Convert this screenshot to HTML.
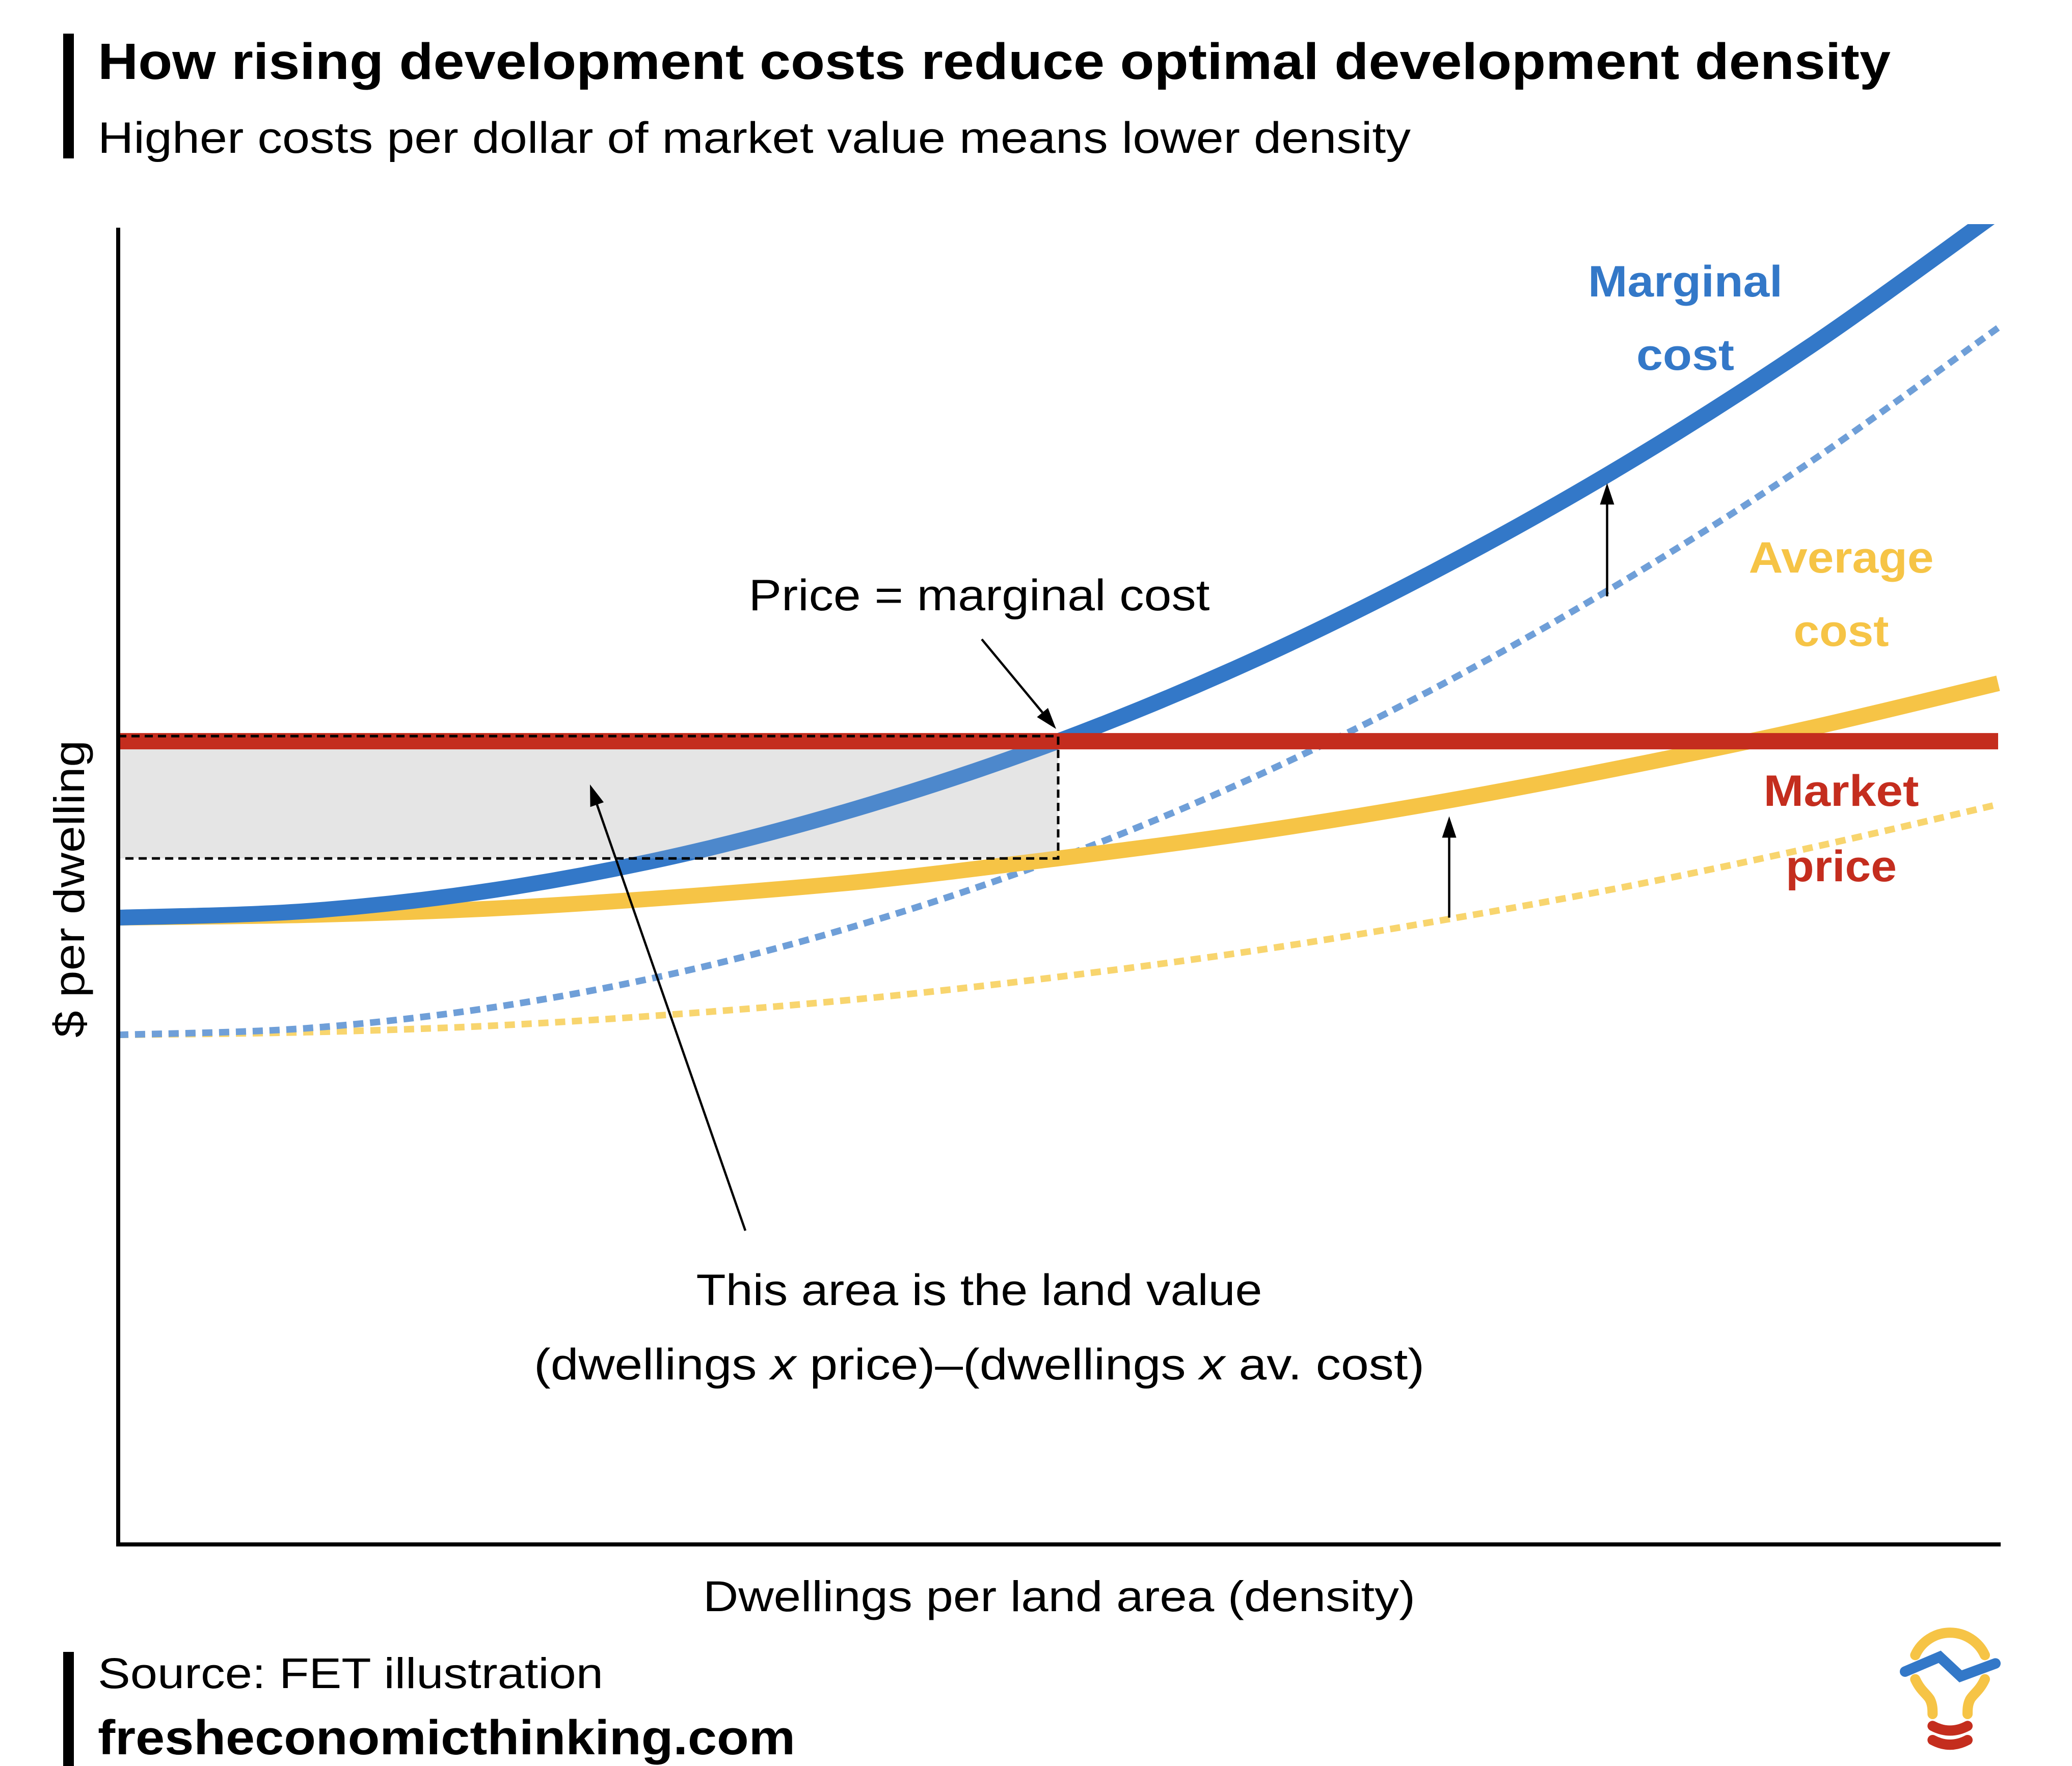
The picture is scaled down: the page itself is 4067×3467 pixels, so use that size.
<!DOCTYPE html>
<html><head><meta charset="utf-8"><style>
html,body{margin:0;padding:0;background:#fff;}
svg{display:block;font-family:"Liberation Sans",Arial,sans-serif;}
</style></head><body>
<svg id="chart" width="4067" height="3467" viewBox="0 0 4067 3467" xmlns="http://www.w3.org/2000/svg">
<defs>
<clipPath id="plotclip"><rect x="232" y="440" width="3700" height="2592"/></clipPath>
</defs>
<rect x="124" y="66" width="21" height="245" fill="#000"/>
<text x="192" y="155" font-size="100" font-weight="bold" fill="#000" textLength="3519" lengthAdjust="spacingAndGlyphs">How rising development costs reduce optimal development density</text>
<text x="192" y="300" font-size="86" fill="#000" textLength="2577" lengthAdjust="spacingAndGlyphs">Higher costs per dollar of market value means lower density</text>
<g id="plot"></g>
<text transform="translate(165,1745) rotate(-90)" text-anchor="middle" font-size="84" fill="#000" textLength="584" lengthAdjust="spacingAndGlyphs">$ per dwelling</text>
<text x="2079" y="3163" text-anchor="middle" font-size="84" fill="#000" textLength="1398" lengthAdjust="spacingAndGlyphs">Dwellings per land area (density)</text>
<text text-anchor="middle" font-size="86" font-weight="bold" fill="#3378c8"><tspan x="3308" y="582" textLength="382" lengthAdjust="spacingAndGlyphs">Marginal</tspan><tspan x="3308" y="726" textLength="192" lengthAdjust="spacingAndGlyphs">cost</tspan></text>
<text text-anchor="middle" font-size="86" font-weight="bold" fill="#f6c446"><tspan x="3614" y="1124" textLength="363" lengthAdjust="spacingAndGlyphs">Average</tspan><tspan x="3614" y="1268" textLength="187" lengthAdjust="spacingAndGlyphs">cost</tspan></text>
<text text-anchor="middle" font-size="86" font-weight="bold" fill="#c42d1e"><tspan x="3614" y="1582" textLength="305" lengthAdjust="spacingAndGlyphs">Market</tspan><tspan x="3614" y="1730" textLength="218" lengthAdjust="spacingAndGlyphs">price</tspan></text>
<text x="1922" y="1198" text-anchor="middle" font-size="86" fill="#000" textLength="905" lengthAdjust="spacingAndGlyphs">Price = marginal cost</text>
<text text-anchor="middle" font-size="86" fill="#000"><tspan x="1922" y="2562" textLength="1111" lengthAdjust="spacingAndGlyphs">This area is the land value</tspan><tspan x="1922" y="2708" textLength="1748" lengthAdjust="spacingAndGlyphs">(dwellings <tspan font-style="italic">x</tspan> price)–(dwellings <tspan font-style="italic">x</tspan> av. cost)</tspan></text>
<rect x="124" y="3243" width="21" height="224" fill="#000"/>
<text x="192" y="3314" font-size="84" fill="#000" textLength="992" lengthAdjust="spacingAndGlyphs">Source: FET illustration</text>
<text x="192" y="3444" font-size="96" font-weight="bold" fill="#000" textLength="1369" lengthAdjust="spacingAndGlyphs">fresheconomicthinking.com</text>
<g transform="translate(3700,3150) scale(0.3333)" fill="none" stroke-linecap="round" stroke-width="60">
<path d="M178,298 A225 225 0 0 1 588,298" stroke="#f6c446"/>
<path d="M178,440 C210,510 250,530 265,560 C280,590 280,620 280,645" stroke="#f6c446"/>
<path d="M588,440 C556,510 516,530 501,560 C486,590 486,620 486,645" stroke="#f6c446"/>
<path d="M118,395 L322,308 L445,423 L650,347" stroke="#3378c8" stroke-width="62" stroke-linejoin="miter"/>
<path d="M280,715 Q383,770 486,715" stroke="#c42d1e"/>
<path d="M280,798 Q383,853 486,798" stroke="#c42d1e"/>
</g>
</svg>
<script>
const densities = [0,10,20,30,40,50,60,70,80,90,100];
const marginalCostNew = [47.6,48.1,49.7,52.4,56.2,61.0,66.9,73.9,81.9,91.0,101.2];
const marginalCostOld = [38.7,39.2,40.8,43.5,47.3,52.1,58.0,65.0,73.1,82.2,92.4];
const averageCostNew = [47.6,47.8,48.3,49.2,50.4,52.1,54.0,56.3,59.0,62.0,65.4];
const averageCostOld = [38.7,38.9,39.4,40.3,41.5,43.1,45.0,47.3,49.9,52.9,56.2];
const marketPrice = [61.0];
const optimalDensity = [50];

const NS = "http://www.w3.org/2000/svg";
const X0 = 232, X1 = 3922, Y0 = 3032, Y1 = 447;
function xs(v){ return X0 + v/100*(X1-X0); }
function ys(v){ return Y0 - v/100*(Y0-Y1); }
function interp(xArr, yArr, x){
  for(let i=0;i<xArr.length-1;i++){
    if(x>=xArr[i] && x<=xArr[i+1]){
      const t=(x-xArr[i])/(xArr[i+1]-xArr[i]);
      return yArr[i]+t*(yArr[i+1]-yArr[i]);
    }
  }
  return yArr[yArr.length-1];
}
function smoothPath(xArr, yArr){
  const p = xArr.map((x,i)=>[xs(x), ys(yArr[i])]);
  let d = "M"+p[0][0]+","+p[0][1];
  for(let i=0;i<p.length-1;i++){
    const p0=p[i-1]||p[i], p1=p[i], p2=p[i+1], p3=p[i+2]||p[i+1];
    const c1=[p1[0]+(p2[0]-p0[0])/6, p1[1]+(p2[1]-p0[1])/6];
    const c2=[p2[0]-(p3[0]-p1[0])/6, p2[1]-(p3[1]-p1[1])/6];
    d+=" C"+c1[0]+","+c1[1]+" "+c2[0]+","+c2[1]+" "+p2[0]+","+p2[1];
  }
  return d;
}
const plot = document.getElementById("plot");
function mk(tag, attrs){
  const el=document.createElementNS(NS,tag);
  for(const k in attrs) el.setAttribute(k, attrs[k]);
  plot.appendChild(el);
  return el;
}
const mp = marketPrice[0], od = optimalDensity[0];
const acAtOpt = interp(densities, averageCostNew, od);

const rect = mk("rect",{x:xs(0), y:ys(mp), width:xs(od)-xs(0), height:ys(acAtOpt)-ys(mp), fill:"#e6e6e6"});



const g = mk("g",{"clip-path":"url(#plotclip)", fill:"none"});


function line(parent, d, color, w, dash){
  const el=document.createElementNS(NS,"path");
  el.setAttribute("d", d); el.setAttribute("stroke", color); el.setAttribute("stroke-width", w); el.setAttribute("fill","none");
  if(dash) el.setAttribute("stroke-dasharray", dash);
  parent.appendChild(el); return el;
}
const acOld = line(g, smoothPath(densities, averageCostOld), "#f8d56e", 13, "20 13");


const mcOld = line(g, smoothPath(densities, marginalCostOld), "#6f9fd8", 13, "20 13");


const acNew = line(g, smoothPath(densities, averageCostNew), "#f6c446", 31);


const mcNew = line(g, smoothPath(densities, marginalCostNew), "#3378c8", 31);


const mpl = line(g, "M"+xs(0)+","+ys(mp)+" L"+xs(100)+","+ys(mp), "#c42d1e", 32);


const ov = mk("rect",{x:xs(0), y:ys(mp)+16, width:xs(od)-xs(0), height:ys(acAtOpt)-ys(mp)-16, fill:"#e6e6e6", opacity:"0.15"});



const dash = mk("path",{d:"M"+xs(0)+","+(ys(mp)-10)+" L"+xs(od)+","+(ys(mp)-10)+" L"+xs(od)+","+ys(acAtOpt)+" L"+xs(0)+","+ys(acAtOpt), stroke:"#000", "stroke-width":5, "stroke-dasharray":"16 10", fill:"none"});



function arrow(x1,y1,x2,y2,name){
  const a=Math.atan2(y2-y1,x2-x1), L=42, W=14;
  const bx=x2-L*Math.cos(a), by=y2-L*Math.sin(a);
  const grp=mk("g",{});
  
  
  const l=document.createElementNS(NS,"line");
  l.setAttribute("x1",x1);l.setAttribute("y1",y1);l.setAttribute("x2",bx);l.setAttribute("y2",by);
  l.setAttribute("stroke","#000");l.setAttribute("stroke-width",4.5);
  grp.appendChild(l);
  const t=document.createElementNS(NS,"polygon");
  const px=-Math.sin(a)*W, py=Math.cos(a)*W;
  t.setAttribute("points",x2+","+y2+" "+(bx+px)+","+(by+py)+" "+(bx-px)+","+(by-py));
  t.setAttribute("fill","#000");
  grp.appendChild(t);
}
arrow(xs(79.2), ys(72.0), xs(79.2), ys(80.6), "mc-shift-arrow");
arrow(xs(70.8), ys(47.6), xs(70.8), ys(55.3), "ac-shift-arrow");
arrow(1927,1255,xs(od)-4,ys(mp)-24,"price-mc-arrow");
arrow(1463,2416,1158,1540,"land-value-arrow");

const yAxis = mk("line",{x1:232,y1:447,x2:232,y2:3036,stroke:"#000","stroke-width":8});


const xAxis = mk("line",{x1:228,y1:3032,x2:3927,y2:3032,stroke:"#000","stroke-width":8});


</script>
</body></html>
